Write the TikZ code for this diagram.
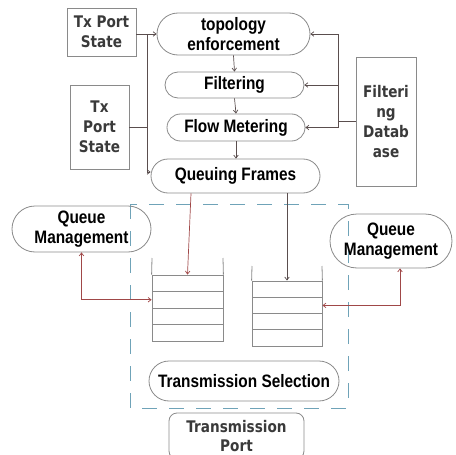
\documentclass[tikz,border=0pt]{standalone}
\usepackage{fontspec}
\setmainfont{Liberation Sans}
\newfontfamily\pillfont{Liberation Sans}[FakeStretch=0.855]
\newfontfamily\grayfont{DejaVu Sans}[FakeStretch=0.85]
\usetikzlibrary{arrows.meta}
\definecolor{boxline}{HTML}{8A8A8A}
\definecolor{conn}{HTML}{5A4E4E}
\definecolor{redc}{HTML}{A04848}
\definecolor{dashblue}{HTML}{6FA3B8}
\definecolor{graytext}{HTML}{3A3A3A}
\tikzset{
  pill/.style={draw=boxline, line width=0.8pt, align=center, inner sep=0pt,
    font=\pillfont\bfseries\fontsize{18}{20}\selectfont},
  graybox/.style={draw=boxline, line width=0.8pt, align=center, inner sep=0pt,
    text=graytext, font=\grayfont\bfseries\fontsize{16}{19.8}\selectfont},
  cell/.style={draw=boxline, line width=0.8pt, inner sep=0pt},
  arr/.style={draw=conn, line width=0.7pt, -{Straight Barb[length=3pt,width=4.5pt]}},
  plain/.style={draw=conn, line width=0.7pt},
  redarr/.style={draw=redc, line width=0.7pt, -{Straight Barb[length=3pt,width=4.5pt]}},
  redboth/.style={draw=redc, line width=0.7pt, {Straight Barb[length=3pt,width=4.5pt]}-{Straight Barb[length=3pt,width=4.5pt]}},
}
\begin{document}
\begin{tikzpicture}[x=1pt,y=-1pt]
\useasboundingbox (0,0) rectangle (456,455);
\clip (0,0) rectangle (456,455);
% dashed frame
\draw[dashblue, line width=0.8pt, dash pattern=on 15pt off 12pt] (130,204) rectangle (348,408);

% top pipeline
\node[pill, minimum width=153pt, minimum height=42pt, rounded corners=21pt] (top) at (233.5,34) {topology\\enforcement};
\node[pill, minimum width=139pt, minimum height=26pt, rounded corners=13pt] (filt) at (234.5,85) {Filtering};
\node[pill, minimum width=138pt, minimum height=27pt, rounded corners=13.5pt] (flow) at (236,127.5) {Flow Metering};
\node[pill, minimum width=169pt, minimum height=34pt, rounded corners=17pt] (qf) at (235.5,176) {Queuing Frames};

% side boxes
\node[graybox, minimum width=69pt, minimum height=48pt] (tx1) at (101.5,32) {Tx Port\\State};
\node[graybox, minimum width=59pt, minimum height=84pt] (tx2) at (99.5,127) {Tx\\Port\\State};
\node[graybox, minimum width=60pt, minimum height=129pt] (fd) at (386,121.5) {Filteri\\ng\\Datab\\ase};

% queue management
\node[pill, minimum width=139pt, minimum height=46pt, rounded corners=23pt] (lqm) at (81.5,229) {Queue\\Management};
\node[pill, minimum width=122pt, minimum height=54pt, rounded corners=27pt] (rqm) at (391,241) {Queue\\Management};

% transmission
\node[pill, minimum width=190pt, minimum height=40pt, rounded corners=20pt] (ts) at (244,381) {Transmission Selection};
\node[graybox, minimum width=135pt, minimum height=46pt, rounded corners=8pt] (tp) at (236.5,436) {Transmission\\Port};

% left queue
\node[cell, minimum width=71pt, minimum height=16.5pt] (lq1) at (187.5,283.25) {};
\node[cell, minimum width=71pt, minimum height=16.5pt] (lq2) at (187.5,299.75) {};
\node[cell, minimum width=71pt, minimum height=16.5pt] (lq3) at (187.5,316.25) {};
\node[cell, minimum width=71pt, minimum height=16.5pt] (lq4) at (187.5,332.75) {};
\draw[boxline, line width=0.8pt] (152,258) -- (lq1.north west);
\draw[boxline, line width=0.8pt] (223,258) -- (lq1.north east);

% right queue
\node[cell, minimum width=70pt, minimum height=16.25pt] (rq1) at (287,289.1) {};
\node[cell, minimum width=70pt, minimum height=16.25pt] (rq2) at (287,305.4) {};
\node[cell, minimum width=70pt, minimum height=16.25pt] (rq3) at (287,321.6) {};
\node[cell, minimum width=70pt, minimum height=16.25pt] (rq4) at (287,337.9) {};
\draw[boxline, line width=0.8pt] (252,266) -- (rq1.north west);
\draw[boxline, line width=0.8pt] (322,266) -- (rq1.north east);

% connectors: Tx port state
\coordinate (bus) at (147,34);
\draw[arr] (tx1.east |- top.west) -- (top.west);
\draw[arr] (bus) |- ([yshift=4pt]qf.west);
\draw[plain] (tx2.east) -- (tx2.east -| bus);

% filtering database
\coordinate (fdbus) at (338,121.5);
\draw[plain] (fd.west) -- (fdbus);
\draw[arr] (fdbus) |- (top.east);
\draw[arr] (fdbus) |- (filt.east);
\draw[arr] (fdbus) |- (flow.east);

% pipeline arrows
\draw[arr] (top.south) -- (filt.north);
\draw[arr] (filt.south) -- (flow.north);
\draw[arr] (flow.south) -- (flow.south |- qf.north);

% to queues
\draw[redarr] ([xshift=-44.5pt]qf.south) -- (lq1.north);
\draw[arr] (qf.south -| rq1.north) -- (rq1.north);

% queue management
\draw[redboth] (lqm.south) |- (lq2.west);
\draw[redboth] ([xshift=9pt]rqm.south) |- (rq2.east);
\end{tikzpicture}
\end{document}
